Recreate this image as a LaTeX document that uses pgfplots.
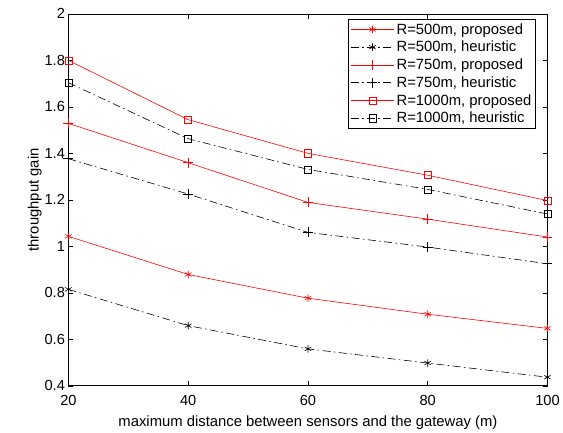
\documentclass[border=0pt]{standalone}
\usepackage{pgfplots}
\pgfplotsset{compat=1.18}
\usepackage{fontspec}
\setmainfont{Liberation Sans}
\begin{document}
\begin{tikzpicture}[x=1bp,y=1bp]
\begin{axis}[
  at={(69bp,45bp)}, anchor=south west,
  width=483bp, height=375bp, scale only axis,
  xmin=20, xmax=100, ymin=0.4, ymax=2,
  xtick={20,40,60,80,100},
  ytick={0.4,0.6,0.8,1,1.2,1.4,1.6,1.8,2},
  tick align=inside, major tick length=5bp,
  tick style={black, line width=0.5pt},
  axis line style={line width=0.7pt},
  /pgf/number format/assume math mode=true,
  tick label style={font=\fontsize{14.8}{17}\selectfont},
  label style={font=\fontsize{15}{17}\selectfont},
  xticklabel style={yshift=-6bp},
  xlabel={maximum distance between sensors and the gateway (m)},
  ylabel={throughput gain},
  xlabel style={yshift=-3bp},
  ylabel style={yshift=-4bp},
  legend style={at={(0.975,0.986)}, anchor=north east, draw=black, line width=0.6pt,
    font=\fontsize{15}{18}\selectfont, inner sep=2bp, row sep=1.6bp,
    cells={anchor=west}},
  legend image post style={line width=0.6pt},
  legend image code/.code={\draw[mark repeat=2,mark phase=2] plot coordinates {(4bp,0bp) (26bp,0bp) (48bp,0bp)};},
  every axis plot/.append style={line width=0.6pt},
]
\addplot[red, mark=asterisk, mark size=3.8bp, mark options={solid}] coordinates {(20,1.043) (40,0.879) (60,0.777) (80,0.708) (100,0.647)};
\addlegendentry{R=500m, proposed}
\addplot[black, dash pattern=on 8bp off 3.5bp on 1.5bp off 3.5bp, mark=asterisk, mark size=3.8bp, mark options={solid}] coordinates {(20,0.815) (40,0.659) (60,0.559) (80,0.498) (100,0.437)};
\addlegendentry{R=500m, heuristic}
\addplot[red, mark=+, mark size=5bp, mark options={solid}] coordinates {(20,1.529) (40,1.36) (60,1.189) (80,1.117) (100,1.04)};
\addlegendentry{R=750m, proposed}
\addplot[black, dash pattern=on 8bp off 3.5bp on 1.5bp off 3.5bp, mark=+, mark size=5bp, mark options={solid}] coordinates {(20,1.377) (40,1.225) (60,1.06) (80,0.997) (100,0.925)};
\addlegendentry{R=750m, heuristic}
\addplot[red, mark=square, mark size=3.6bp, mark options={solid}] coordinates {(20,1.80) (40,1.545) (60,1.40) (80,1.306) (100,1.197)};
\addlegendentry{R=1000m, proposed}
\addplot[black, dash pattern=on 8bp off 3.5bp on 1.5bp off 3.5bp, mark=square, mark size=3.6bp, mark options={solid}] coordinates {(20,1.704) (40,1.463) (60,1.331) (80,1.245) (100,1.139)};
\addlegendentry{R=1000m, heuristic}
\end{axis}
\path (0,0) rectangle (563bp,434bp);
\end{tikzpicture}
\end{document}
